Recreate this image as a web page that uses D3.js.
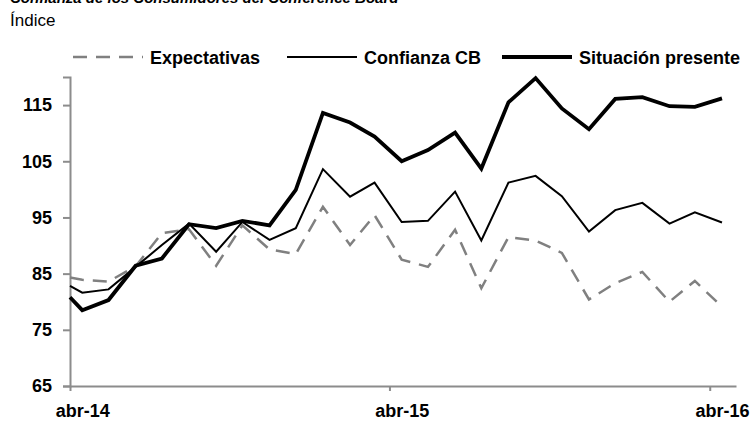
<html lang="es">
<head>
<meta charset="utf-8">
<title>Confianza de los Consumidores del Conference Board</title>
<script src="https://cdn.jsdelivr.net/npm/d3@7"></script>
<style>
body { margin: 0; background: #fff; }
text { font-family: "Liberation Sans", Arial, sans-serif; }
</style>
</head>
<body>
<script>
var w = 750, h = 423;

// fechas: el primer punto cae en el inicio de abr-14, el resto a mitad de mes
var fechas = ["2014-04-01", "2014-04-15", "2014-05-15", "2014-06-15", "2014-07-15", "2014-08-15",
  "2014-09-15", "2014-10-15", "2014-11-15", "2014-12-15", "2015-01-15", "2015-02-15", "2015-03-15",
  "2015-04-15", "2015-05-15", "2015-06-15", "2015-07-15", "2015-08-15", "2015-09-15", "2015-10-15",
  "2015-11-15", "2015-12-15", "2016-01-15", "2016-02-15", "2016-03-15", "2016-04-15"];

var expectativas = [84.3, 83.9, 83.6, 86.3, 92.2, 92.9, 86.4, 93.6, 89.3, 88.5, 96.9, 90.1, 95.4,
  87.5, 86.2, 92.8, 82.4, 91.5, 90.9, 88.7, 80.4, 83.3, 85.3, 80.0, 83.7, 79.1];
var confianza = [82.8, 81.6, 82.2, 86.2, 90.1, 93.9, 88.9, 94.2, 91.0, 93.1, 103.6, 98.7, 101.2,
  94.2, 94.4, 99.6, 90.9, 101.2, 102.4, 98.8, 92.5, 96.3, 97.6, 93.9, 95.9, 94.1];
var presente = [80.8, 78.5, 80.3, 86.4, 87.7, 93.8, 93.1, 94.4, 93.6, 99.9, 113.6, 111.9, 109.4,
  105.0, 107.0, 110.1, 103.7, 115.5, 119.8, 114.4, 110.7, 116.1, 116.4, 114.8, 114.7, 116.2];

var yTicks = [65, 75, 85, 95, 105, 115];
var xTicks = ["2014-04-01", "2015-04-01", "2016-04-01"];
var xTickLabels = ["abr-14", "abr-15", "abr-16"];

var series = [
  {name: "Expectativas", values: expectativas, color: "#808080", width: 2.5, dash: "14,9"},
  {name: "Confianza CB", values: confianza, color: "#000", width: 2, dash: null},
  {name: "Situación presente", values: presente, color: "#000", width: 3.8, dash: null}
];

var parse = d3.utcParse("%Y-%m-%d");
var dates = fechas.map(parse);

var xScale = d3.scaleUtc()
  .domain([parse("2014-04-01"), parse("2016-05-01")])
  .range([70, 736]);

var yScale = d3.scaleLinear()
  .domain([65, 120])
  .range([386, 77]);

var svg = d3.select("body").append("svg")
  .attr("width", w)
  .attr("height", h);

// titulo (cortado arriba en el original)
svg.append("text")
  .attr("x", 10).attr("y", 3)
  .attr("font-size", "15px")
  .attr("font-weight", "bold")
  .attr("font-style", "italic")
  .text("Confianza de los Consumidores del Conference Board");

svg.append("text")
  .attr("x", 10).attr("y", 26)
  .attr("font-size", "17px")
  .text("Índice");

// ejes
var yAxis = d3.axisLeft(yScale)
  .tickValues(yTicks)
  .tickSize(7)
  .tickPadding(11);

var gy = svg.append("g")
  .attr("transform", "translate(70,0)")
  .call(yAxis);
gy.select(".domain").attr("stroke", "#8c8c8c").attr("stroke-width", 2);
gy.selectAll(".tick line").attr("stroke", "#8c8c8c").attr("stroke-width", 2);
gy.selectAll(".tick text")
  .attr("font-size", "18px")
  .attr("font-weight", "bold")
  .attr("font-family", "Liberation Sans, Arial, sans-serif")
  .attr("fill", "#000");

var xAxis = d3.axisBottom(xScale)
  .tickValues(xTicks.map(parse))
  .tickSize(5)
  .tickSizeOuter(0)
  .tickPadding(13)
  .tickFormat(function(d, i) { return xTickLabels[i]; });

var gx = svg.append("g")
  .attr("transform", "translate(0,386)")
  .call(xAxis);
gx.select(".domain").attr("stroke", "#8c8c8c").attr("stroke-width", 2);
gx.selectAll(".tick line").attr("stroke", "#8c8c8c").attr("stroke-width", 2);
gx.selectAll(".tick text")
  .attr("font-size", "18px")
  .attr("font-weight", "bold")
  .attr("font-family", "Liberation Sans, Arial, sans-serif")
  .attr("fill", "#000")
  .attr("x", function(d) { return xScale(d3.utcDay.offset(d, 14)) - xScale(d); });

// lineas
var line = d3.line()
  .x(function(d, i) { return xScale(dates[i]); })
  .y(function(d) { return yScale(d); });

series.forEach(function(s) {
  svg.append("path")
    .datum(s.values)
    .attr("fill", "none")
    .attr("stroke", s.color)
    .attr("stroke-width", s.width)
    .attr("stroke-dasharray", s.dash)
    .attr("stroke-linejoin", "miter")
    .attr("d", line);
});

// leyenda
var legX = [73, 287, 502];
series.forEach(function(s, i) {
  svg.append("line")
    .attr("x1", legX[i]).attr("x2", legX[i] + 70)
    .attr("y1", 57).attr("y2", 57)
    .attr("stroke", s.color)
    .attr("stroke-width", s.width)
    .attr("stroke-dasharray", s.dash);
  svg.append("text")
    .attr("x", legX[i] + 77).attr("y", 63.5)
    .attr("font-size", "18px")
    .attr("font-weight", "bold")
    .text(s.name);
});
</script>
</body>
</html>
